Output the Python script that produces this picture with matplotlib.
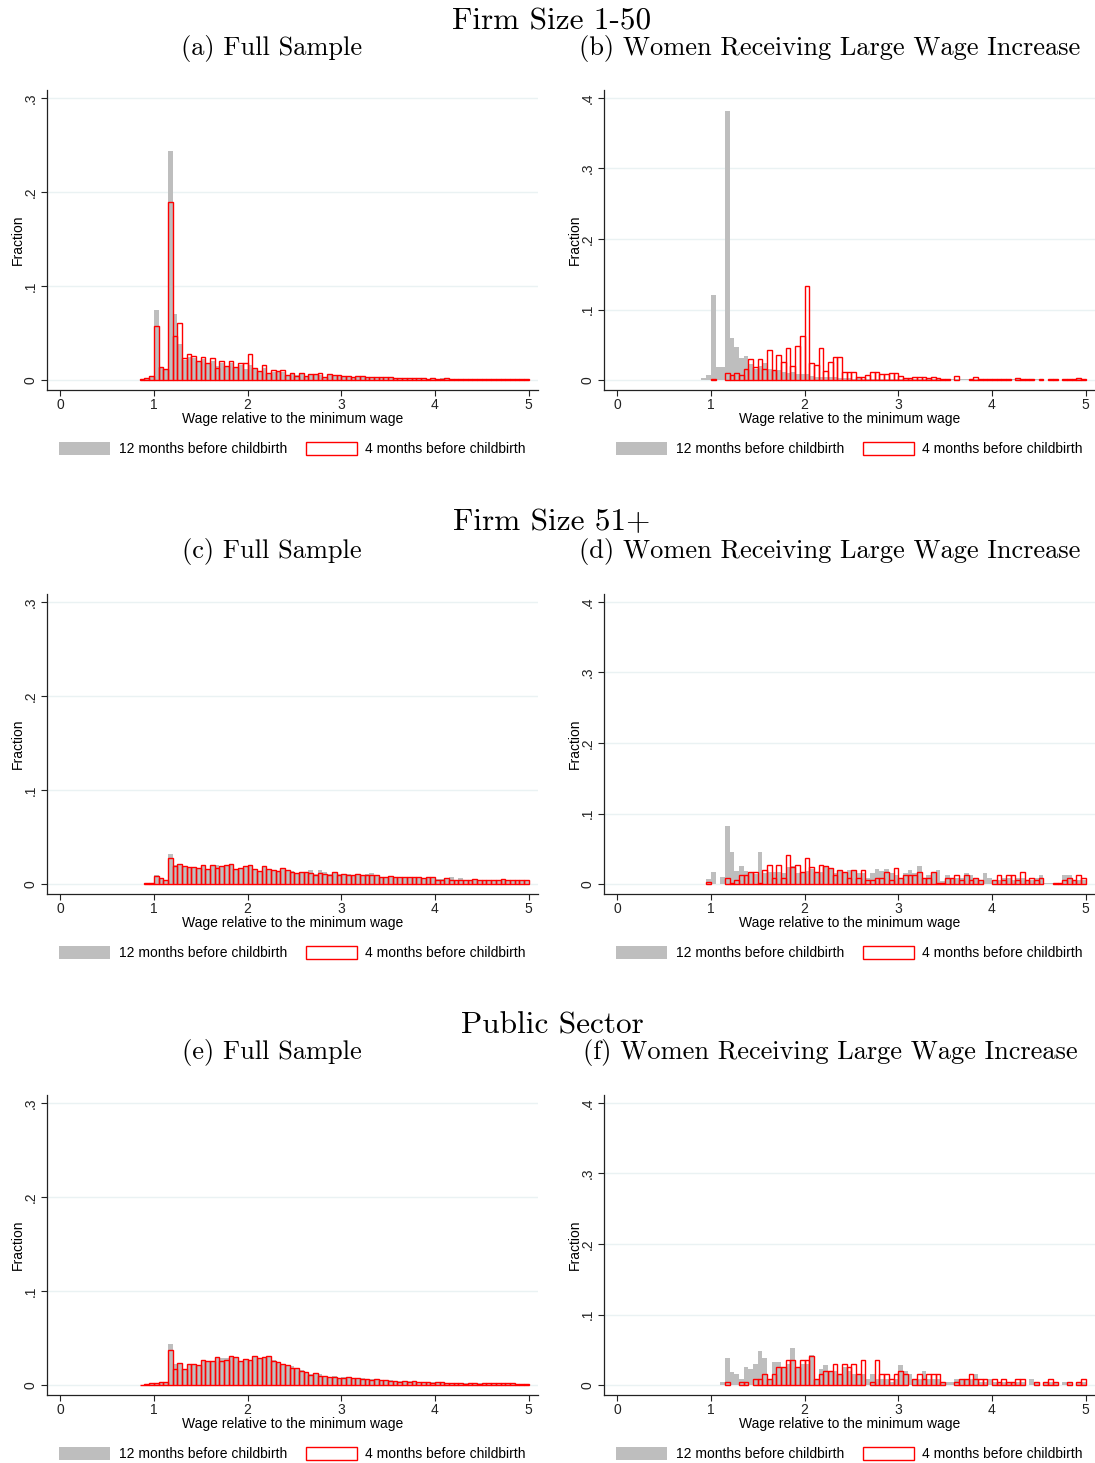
import numpy as np
import matplotlib
matplotlib.use("Agg")
import matplotlib.pyplot as plt

# histogram bins: width .05 starting at .85
bin_left = np.round(np.arange(0.85, 4.999, 0.05), 2)

# panel (a) firm size 1-50, full sample
a_12m = [0.001, 0.002, 0.004, 0.074, 0.013, 0.012, 0.244, 0.070, 0.038, 0.021,
         0.025, 0.023, 0.019, 0.022, 0.017, 0.020, 0.015, 0.018, 0.014, 0.018,
         0.013, 0.016, 0.012, 0.016, 0.012, 0.009, 0.013, 0.007, 0.009, 0.009,
         0.009, 0.005, 0.006, 0.005, 0.006, 0.004, 0.005, 0.005, 0.005, 0.003,
         0.005, 0.004, 0.004, 0.004, 0.004, 0.003, 0.003, 0.003, 0.003, 0.003,
         0.003, 0.003, 0.003, 0.003, 0.002, 0.002, 0.002, 0.002, 0.002, 0.002,
         0.002, 0.0015, 0.002, 0.0015, 0.002, 0.002, 0.0015, 0.001, 0.0015, 0.001,
         0.0015, 0.001, 0.001, 0.0015, 0.001, 0.0015, 0.0015, 0.001, 0.001, 0.001,
         0.0008, 0.0008, 0.001]
a_4m = [0.001, 0.002, 0.004, 0.058, 0.014, 0.012, 0.189, 0.047, 0.061, 0.023,
        0.028, 0.026, 0.020, 0.025, 0.018, 0.023, 0.013, 0.020, 0.015, 0.020,
        0.014, 0.018, 0.018, 0.028, 0.013, 0.010, 0.016, 0.007, 0.011, 0.010,
        0.011, 0.005, 0.007, 0.004, 0.008, 0.004, 0.006, 0.006, 0.007, 0.003,
        0.006, 0.005, 0.005, 0.004, 0.004, 0.003, 0.004, 0.004, 0.003, 0.003,
        0.0035, 0.003, 0.003, 0.0035, 0.002, 0.002, 0.0025, 0.0025, 0.002, 0.002,
        0.002, 0.0015, 0.002, 0.0015, 0.0015, 0.002, 0.0015, 0.001, 0.0015, 0.001,
        0.0015, 0.001, 0.001, 0.0015, 0.001, 0.001, 0.001, 0.001, 0.001, 0.001,
        0.0008, 0.0008, 0.0015]

# panel (b) firm size 1-50, large wage increase
b_12m = [0, 0.003, 0.007, 0.120, 0.018, 0.018, 0.381, 0.059, 0.047, 0.031,
         0.034, 0.023, 0.016, 0.020, 0.024, 0.016, 0.013, 0.014, 0.012, 0.010,
         0.011, 0.008, 0.008, 0.008, 0.006, 0.005, 0.005, 0.004, 0.004, 0.004,
         0.003, 0.003, 0.003, 0.002, 0.003, 0.002, 0.002, 0.002, 0.002, 0.002,
         0.002, 0.002, 0.002, 0.002, 0.002, 0.001, 0.002, 0.001, 0.001, 0.001,
         0.001, 0.001, 0.001, 0.001, 0.002, 0.001, 0.002, 0.001, 0, 0.001,
         0.001, 0.001, 0.001, 0, 0.001, 0.001, 0.001, 0.002, 0.001, 0,
         0.001, 0, 0.001, 0.001, 0, 0.001, 0, 0, 0.001, 0,
         0.001, 0.001, 0]
b_4m = [0, 0, 0, 0.001, 0, 0, 0.010, 0.007, 0.010, 0.007,
        0.015, 0.030, 0.018, 0.030, 0.016, 0.042, 0.014, 0.036, 0.025, 0.046,
        0.020, 0.048, 0.062, 0.134, 0.024, 0.022, 0.045, 0.013, 0.025, 0.032,
        0.032, 0.012, 0.012, 0.012, 0.005, 0.005, 0.0075, 0.012, 0.012, 0.008,
        0.009, 0.010, 0.010, 0.006, 0.003, 0.003, 0.004, 0.004, 0.005, 0.003,
        0.005, 0.003, 0.002, 0.002, 0, 0.006, 0, 0, 0.002, 0.005,
        0.002, 0.002, 0.002, 0.002, 0.002, 0.002, 0.002, 0, 0.003, 0.002,
        0.002, 0.002, 0, 0.002, 0, 0.002, 0.002, 0, 0.002, 0.002,
        0.002, 0.003, 0.002]

# panel (c) firm size 51+, full sample
c_12m = [0, 0.001, 0.0015, 0.010, 0.005, 0.004, 0.032, 0.020, 0.021, 0.019,
         0.018, 0.018, 0.017, 0.019, 0.016, 0.020, 0.020, 0.019, 0.019, 0.021,
         0.016, 0.017, 0.019, 0.020, 0.016, 0.014, 0.018, 0.016, 0.015, 0.014,
         0.016, 0.015, 0.014, 0.012, 0.013, 0.013, 0.015, 0.011, 0.015, 0.013,
         0.011, 0.013, 0.011, 0.011, 0.011, 0.010, 0.011, 0.010, 0.011, 0.012,
         0.010, 0.008, 0.008, 0.009, 0.008, 0.008, 0.008, 0.008, 0.007, 0.007,
         0.006, 0.007, 0.007, 0.005, 0.005, 0.006, 0.0075, 0.004, 0.006, 0.004,
         0.0045, 0.005, 0.0045, 0.004, 0.004, 0.004, 0.0045, 0.005, 0.0045, 0.004,
         0.004, 0.004, 0.004]
c_4m = [0, 0.001, 0.0015, 0.009, 0.006, 0.004, 0.028, 0.019, 0.021, 0.019,
        0.018, 0.018, 0.017, 0.020, 0.016, 0.020, 0.017, 0.019, 0.020, 0.021,
        0.016, 0.017, 0.019, 0.020, 0.016, 0.014, 0.019, 0.016, 0.015, 0.014,
        0.017, 0.015, 0.013, 0.012, 0.013, 0.013, 0.012, 0.010, 0.012, 0.011,
        0.010, 0.013, 0.010, 0.011, 0.010, 0.010, 0.011, 0.010, 0.010, 0.010,
        0.010, 0.007, 0.008, 0.009, 0.008, 0.0075, 0.0075, 0.008, 0.007, 0.007,
        0.006, 0.007, 0.007, 0.0045, 0.004, 0.006, 0.004, 0.004, 0.0045, 0.004,
        0.0045, 0.005, 0.0045, 0.004, 0.004, 0.004, 0.0045, 0.005, 0.0045, 0.004,
        0.004, 0.004, 0.004]

# panel (d) firm size 51+, large wage increase
d_12m = [0, 0, 0.007, 0.017, 0, 0.010, 0.083, 0.046, 0.019, 0.026,
         0.019, 0.016, 0.014, 0.046, 0.016, 0.017, 0.017, 0.017, 0.016, 0.024,
         0.026, 0.016, 0.016, 0.019, 0.021, 0.016, 0.017, 0.024, 0.021, 0.016,
         0.019, 0.016, 0.020, 0.020, 0.016, 0.016, 0.009, 0.016, 0.022, 0.019,
         0.022, 0.016, 0.013, 0.009, 0.016, 0.020, 0.016, 0.026, 0.009, 0.013,
         0.016, 0.020, 0.005, 0.013, 0.009, 0.009, 0.009, 0.016, 0.013, 0.009,
         0.006, 0.016, 0.009, 0.006, 0.006, 0.009, 0.009, 0.006, 0.009, 0.009,
         0.006, 0.006, 0.009, 0.013, 0.002, 0.002, 0, 0, 0.013, 0.013,
         0.006, 0.006, 0.006]
d_4m = [0, 0, 0.003, 0, 0, 0, 0.009, 0.001, 0.006, 0.013,
        0.013, 0.017, 0.017, 0.002, 0.020, 0.027, 0.009, 0.027, 0.009, 0.041,
        0.024, 0.027, 0.017, 0.037, 0.024, 0.017, 0.027, 0.025, 0.023, 0.013,
        0.020, 0.017, 0.009, 0.020, 0.009, 0.020, 0.006, 0.006, 0.009, 0.009,
        0.017, 0.006, 0.023, 0.009, 0.013, 0.013, 0.013, 0.017, 0.009, 0.009,
        0.017, 0.002, 0.002, 0.009, 0.009, 0.013, 0.006, 0.013, 0.006, 0.009,
        0.006, 0, 0, 0.006, 0.013, 0.006, 0.013, 0.013, 0.006, 0.017,
        0.006, 0.009, 0.006, 0.009, 0, 0, 0.002, 0.002, 0.006, 0.009,
        0.006, 0.013, 0.009]

# panel (e) public sector, full sample
e_12m = [0.0005, 0.001, 0.002, 0.002, 0.003, 0.003, 0.044, 0.022, 0.022, 0.017,
         0.022, 0.022, 0.021, 0.027, 0.026, 0.026, 0.029, 0.029, 0.029, 0.030,
         0.030, 0.026, 0.028, 0.027, 0.030, 0.029, 0.029, 0.030, 0.027, 0.025,
         0.022, 0.021, 0.020, 0.018, 0.016, 0.014, 0.012, 0.013, 0.012, 0.010,
         0.009, 0.010, 0.008, 0.009, 0.009, 0.008, 0.008, 0.007, 0.006, 0.006,
         0.006, 0.005, 0.005, 0.005, 0.004, 0.004, 0.004, 0.004, 0.004, 0.003,
         0.003, 0.003, 0.003, 0.003, 0.003, 0.002, 0.002, 0.002, 0.002, 0.002,
         0.002, 0.002, 0.002, 0.002, 0.002, 0.002, 0.002, 0.002, 0.002, 0.002,
         0.0015, 0.0015, 0.001]
e_4m = [0.0005, 0.001, 0.002, 0.002, 0.003, 0.003, 0.037, 0.017, 0.023, 0.017,
        0.022, 0.022, 0.021, 0.027, 0.026, 0.026, 0.030, 0.026, 0.027, 0.031,
        0.030, 0.026, 0.028, 0.027, 0.031, 0.029, 0.030, 0.031, 0.026, 0.024,
        0.022, 0.021, 0.018, 0.018, 0.015, 0.014, 0.011, 0.013, 0.010, 0.010,
        0.009, 0.009, 0.008, 0.008, 0.009, 0.007, 0.008, 0.006, 0.006, 0.005,
        0.006, 0.005, 0.005, 0.004, 0.004, 0.003, 0.004, 0.003, 0.004, 0.003,
        0.003, 0.003, 0.002, 0.003, 0.003, 0.002, 0.002, 0.002, 0.002, 0.0015,
        0.002, 0.002, 0.0015, 0.002, 0.002, 0.002, 0.002, 0.002, 0.002, 0.002,
        0.0015, 0.0015, 0.001]

# panel (f) public sector, large wage increase
f_12m = [0, 0, 0, 0, 0, 0.005, 0.039, 0.019, 0.015, 0.009,
         0.025, 0.023, 0.030, 0.048, 0.039, 0.009, 0.033, 0.033, 0.025, 0.030,
         0.053, 0.025, 0.030, 0.030, 0.043, 0.009, 0.023, 0.029, 0.020, 0.020,
         0.015, 0.025, 0.020, 0.015, 0.015, 0.015, 0.009, 0.015, 0.009, 0.009,
         0.009, 0.004, 0.009, 0.029, 0.020, 0.015, 0.009, 0.009, 0.020, 0.009,
         0.009, 0.009, 0.004, 0.004, 0.004, 0.009, 0.009, 0.009, 0.009, 0.015,
         0.004, 0.004, 0.009, 0.004, 0.004, 0.004, 0.004, 0.004, 0.004, 0.004,
         0, 0.009, 0.004, 0, 0.004, 0.004, 0.004, 0, 0.004, 0.004,
         0, 0.004, 0.004]
f_4m = [0, 0, 0, 0, 0, 0, 0.004, 0, 0, 0.004,
        0.004, 0, 0.009, 0.009, 0.015, 0.009, 0.015, 0.025, 0.025, 0.035,
        0.035, 0.025, 0.035, 0.035, 0.041, 0.009, 0.015, 0.020, 0.020, 0.030,
        0.015, 0.030, 0.025, 0.030, 0.015, 0.035, 0, 0.004, 0.035, 0.015,
        0.015, 0.009, 0.015, 0.020, 0.015, 0, 0.009, 0.015, 0.009, 0.015,
        0.015, 0.015, 0.004, 0, 0, 0.004, 0.009, 0.009, 0.015, 0.009,
        0.009, 0.009, 0, 0.009, 0.004, 0.009, 0.004, 0.004, 0.009, 0.009,
        0, 0, 0.004, 0, 0.004, 0.009, 0.004, 0, 0, 0.004,
        0, 0.004, 0.009]

row_titles = ["Firm Size 1-50", "Firm Size 51+", "Public Sector"]
panel_titles = [["(a) Full Sample", "(b) Women Receiving Large Wage Increase"],
                ["(c) Full Sample", "(d) Women Receiving Large Wage Increase"],
                ["(e) Full Sample", "(f) Women Receiving Large Wage Increase"]]
panel_data = [[(a_12m, a_4m), (b_12m, b_4m)],
              [(c_12m, c_4m), (d_12m, d_4m)],
              [(e_12m, e_4m), (f_12m, f_4m)]]
left_yticks = [0, 0.1, 0.2, 0.3]
left_ylabels = ["0", ".1", ".2", ".3"]
right_yticks = [0, 0.1, 0.2, 0.3, 0.4]
right_ylabels = ["0", ".1", ".2", ".3", ".4"]
xticks = [0, 1, 2, 3, 4, 5]
legend_labels = ["12 months before childbirth", "4 months before childbirth"]

W, H = 1095, 1463
GREY = "#bebebe"
GRID = "#eaf2f3"
SANS = ["Liberation Sans", "DejaVu Sans"]
SERIF = ["cmr10", "DejaVu Serif"]
plt.rcParams["font.family"] = SANS
plt.rcParams["axes.formatter.use_mathtext"] = True

fig = plt.figure(figsize=(W / 100, H / 100), dpi=100)


def px_axes(x0, y0, x1, y1):
    return fig.add_axes([x0 / W, 1 - y1 / H, (x1 - x0) / W, (y1 - y0) / H])


def draw_hist(ax, grey, red, yticks, ylabels, ylim):
    grey = np.asarray(grey)
    red = np.asarray(red)
    assert len(grey) == len(bin_left) and len(red) == len(bin_left)
    g = grey > 0
    r = red > 0
    hg = ax.bar(bin_left[g], grey[g], width=0.05, align="edge",
                color=GREY, linewidth=0)
    hr = ax.bar(bin_left[r], red[r], width=0.05, align="edge",
                fill=False, edgecolor="red", linewidth=1.0)
    ax.set_xlim(-0.14, 5.10)
    ax.set_ylim(*ylim)
    ax.set_xticks(xticks)
    ax.set_xticklabels([str(t) for t in xticks])
    ax.set_yticks(yticks)
    ax.set_yticklabels(ylabels, rotation=90, va="center")
    ax.yaxis.grid(True, color=GRID, linewidth=1.0)
    ax.set_axisbelow(True)
    for s in ["top", "right"]:
        ax.spines[s].set_visible(False)
    for s in ["left", "bottom"]:
        ax.spines[s].set_color("#222222")
        ax.spines[s].set_linewidth(0.9)
    ax.tick_params(direction="out", length=4, width=0.8, labelsize=10,
                   colors="#222222")
    ax.tick_params(axis="x", pad=1.5)
    ax.tick_params(axis="y", pad=3)
    ax.set_xlabel("Wage relative to the minimum wage", fontsize=10)
    ax.xaxis.set_label_coords(0.5, -0.073)
    ax.set_ylabel("Fraction", fontsize=10)
    ax.yaxis.set_label_coords(-0.046, 0.5)
    ax.legend([hg, hr], legend_labels, loc="center", ncol=2,
              bbox_to_anchor=(0.5, -0.197), frameon=False, fontsize=10,
              handlelength=3.7, handleheight=1.1, handletextpad=0.6,
              columnspacing=1.35, borderpad=0, borderaxespad=0)


row_shift = [0, 504, 1005]
title_y = [22, 522, 1026]
sub_y = [49, 552, 1053]
for r in range(3):
    dy = row_shift[r]
    fig.text(552 / W, 1 - title_y[r] / H, row_titles[r], ha="center",
             va="center", fontsize=22.5, family=SERIF)
    fig.text(272 / W, 1 - sub_y[r] / H, panel_titles[r][0], ha="center",
             va="center", fontsize=19, family=SERIF)
    fig.text(830 / W, 1 - sub_y[r] / H, panel_titles[r][1], ha="center",
             va="center", fontsize=19, family=SERIF)

    ax_l = px_axes(47, 90 + dy, 538, 390 + dy)
    draw_hist(ax_l, *panel_data[r][0], left_yticks, left_ylabels,
              (-0.0106, 0.3085))
    ax_r = px_axes(604, 90 + dy, 1095, 390 + dy)
    draw_hist(ax_r, *panel_data[r][1], right_yticks, right_ylabels,
              (-0.0141, 0.4113))

fig.savefig("out.png", dpi=100, facecolor="white")
